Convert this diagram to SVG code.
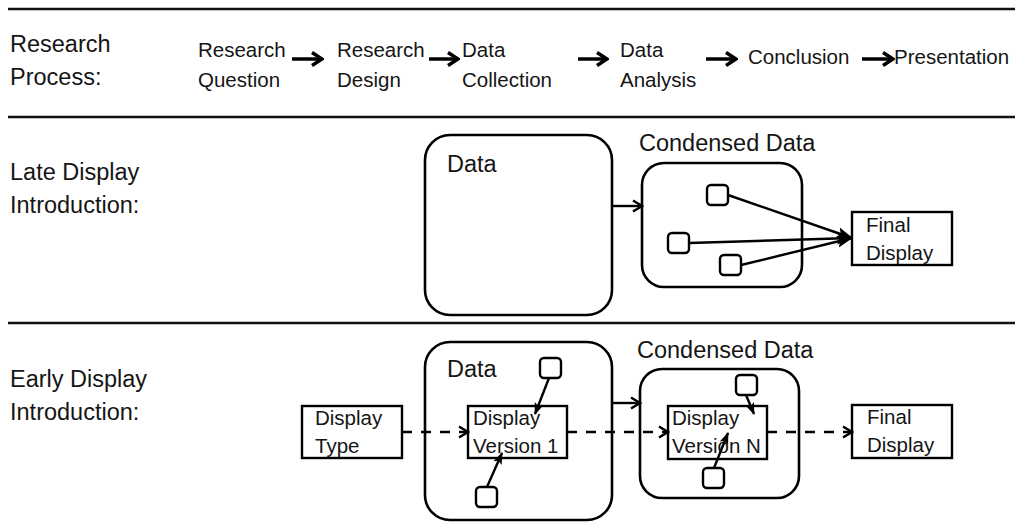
<svg xmlns="http://www.w3.org/2000/svg" width="1022" height="526" viewBox="0 0 1022 526">
<defs>
<style>
text{font-family:"Liberation Sans",Arial,sans-serif;fill:#151515}
.big{font-size:23.5px}
.sm{font-size:20.5px}
.bx{font-size:20.5px}
.rule{stroke:#111;stroke-width:2.5}
.rbox{fill:#fff;stroke:#000;stroke-width:2.6}
.box{fill:#fff;stroke:#000;stroke-width:2.4}
.sq{fill:#fff;stroke:#000;stroke-width:2.4}
.topar{stroke:#000;stroke-width:3.5;fill:none;marker-end:url(#chevBig)}
.solid{stroke:#000;stroke-width:2.4;fill:none}
.dash{stroke:#000;stroke-width:2.6;fill:none;stroke-dasharray:10 9}
</style>
<marker id="chevBig" viewBox="0 0 14 16" refX="12" refY="8" markerWidth="14" markerHeight="16" orient="auto" markerUnits="userSpaceOnUse">
<path d="M2,1.5 L12,8 L2,14.5" fill="none" stroke="#000" stroke-width="3.5"/>
</marker>
<marker id="chev" viewBox="0 0 12 14" refX="10.5" refY="7" markerWidth="12" markerHeight="14" orient="auto" markerUnits="userSpaceOnUse">
<path d="M1.5,1.5 L10.5,7 L1.5,12.5" fill="none" stroke="#000" stroke-width="2.4"/>
</marker>
<marker id="tri" viewBox="0 0 16 14" refX="15" refY="7" markerWidth="16" markerHeight="14" orient="auto" markerUnits="userSpaceOnUse">
<path d="M0,1 L16,7 L0,13 L3,7 Z" fill="#000"/>
</marker>
<marker id="triS" viewBox="0 0 12 10" refX="11" refY="5" markerWidth="12" markerHeight="10" orient="auto" markerUnits="userSpaceOnUse">
<path d="M0,0.5 L12,5 L0,9.5 L2.5,5 Z" fill="#000"/>
</marker>
</defs>
<rect width="1022" height="526" fill="#fff"/>

<g id="rules">
<line class="rule" x1="8" y1="9" x2="1015" y2="9" stroke-width="3"/>
<line class="rule" x1="8" y1="117" x2="1015" y2="117"/>
<line class="rule" x1="8" y1="323" x2="1015" y2="323"/>
</g>

<g id="row-labels">
<text class="big" x="10" y="52">Research</text>
<text class="big" x="10" y="85">Process:</text>
<text class="big" x="10" y="180">Late Display</text>
<text class="big" x="10" y="213">Introduction:</text>
<text class="big" x="10" y="387">Early Display</text>
<text class="big" x="10" y="420">Introduction:</text>
</g>

<g id="step-question"><text class="sm" x="198" y="57">Research</text><text class="sm" x="198" y="87">Question</text></g>
<g id="step-design"><text class="sm" x="337" y="57">Research</text><text class="sm" x="337" y="87">Design</text></g>
<g id="step-collection"><text class="sm" x="462" y="57">Data</text><text class="sm" x="462" y="87">Collection</text></g>
<g id="step-analysis"><text class="sm" x="620" y="57">Data</text><text class="sm" x="620" y="87">Analysis</text></g>
<g id="step-conclusion"><text class="sm" x="748" y="64">Conclusion</text></g>
<g id="step-presentation"><text class="sm" x="894" y="64">Presentation</text></g>

<g id="late-data"><rect class="rbox" x="425" y="135" width="187" height="180" rx="25"/><text class="big" x="447" y="172">Data</text></g>
<g id="late-condensed"><rect class="rbox" x="642" y="163" width="160" height="124" rx="22"/><text class="big" x="639" y="151">Condensed Data</text></g>
<g id="late-sq1"><rect class="sq" x="707" y="185" width="21" height="20" rx="4"/></g>
<g id="late-sq2"><rect class="sq" x="668" y="233" width="21" height="20" rx="4"/></g>
<g id="late-sq3"><rect class="sq" x="720" y="255" width="21" height="20" rx="4"/></g>
<g id="late-final"><rect class="box" x="852" y="212" width="100" height="53"/><text class="bx" x="866" y="232">Final</text><text class="bx" x="866" y="260">Display</text></g>

<g id="early-type"><rect class="box" x="302" y="406" width="100" height="52"/><text class="bx" x="315" y="425">Display</text><text class="bx" x="315" y="453">Type</text></g>
<g id="early-data"><rect class="rbox" x="425" y="342" width="187" height="178" rx="25"/><text class="big" x="447" y="377">Data</text></g>
<g id="early-v1"><rect class="box" x="468" y="406" width="99" height="52"/><text class="bx" x="473" y="425">Display</text><text class="bx" x="473" y="453">Version 1</text></g>
<g id="early-sq1"><rect class="sq" x="540" y="358" width="21" height="20" rx="4"/></g>
<g id="early-sq2"><rect class="sq" x="476" y="487" width="21" height="20" rx="4"/></g>
<g id="early-condensed"><rect class="rbox" x="640" y="369" width="159" height="129" rx="22"/><text class="big" x="637" y="358">Condensed Data</text></g>
<g id="early-vn"><rect class="box" x="668" y="406" width="99" height="53"/><text class="bx" x="672" y="425">Display</text><text class="bx" x="672" y="453">Version N</text></g>
<g id="early-sq3"><rect class="sq" x="736" y="375" width="21" height="20" rx="4"/></g>
<g id="early-sq4"><rect class="sq" x="703" y="468" width="21" height="20" rx="4"/></g>
<g id="early-final"><rect class="box" x="852" y="405" width="100" height="53"/><text class="bx" x="867" y="424">Final</text><text class="bx" x="867" y="452">Display</text></g>

<g id="connectors">
<line class="topar" x1="292" y1="59" x2="322" y2="59"/>
<line class="topar" x1="429" y1="59" x2="458" y2="59"/>
<line class="topar" x1="578" y1="59" x2="607" y2="59"/>
<line class="topar" x1="706" y1="59" x2="736" y2="59"/>
<line class="topar" x1="862" y1="59" x2="893" y2="59"/>

<line class="solid" x1="612" y1="206" x2="642" y2="206" marker-end="url(#chev)"/>
<line class="solid" x1="728" y1="195" x2="852" y2="238" marker-end="url(#tri)"/>
<line class="solid" x1="689" y1="243" x2="852" y2="238" marker-end="url(#tri)"/>
<line class="solid" x1="741" y1="265" x2="852" y2="238" marker-end="url(#tri)"/>

<line class="solid" x1="612" y1="403" x2="640" y2="403" marker-end="url(#chev)"/>
<line class="dash" x1="402" y1="432" x2="468" y2="432" marker-end="url(#chev)"/>
<line class="dash" x1="567" y1="432" x2="668" y2="432" marker-end="url(#chev)"/>
<line class="dash" x1="767" y1="432" x2="852" y2="432" marker-end="url(#chev)"/>
<line class="solid" x1="549" y1="378" x2="535" y2="414" marker-end="url(#triS)"/>
<line class="solid" x1="487" y1="487" x2="502" y2="453" marker-end="url(#triS)"/>
<line class="solid" x1="746" y1="395" x2="754" y2="414" marker-end="url(#triS)"/>
<line class="solid" x1="714" y1="468" x2="728" y2="433" marker-end="url(#triS)"/>
</g>
</svg>
